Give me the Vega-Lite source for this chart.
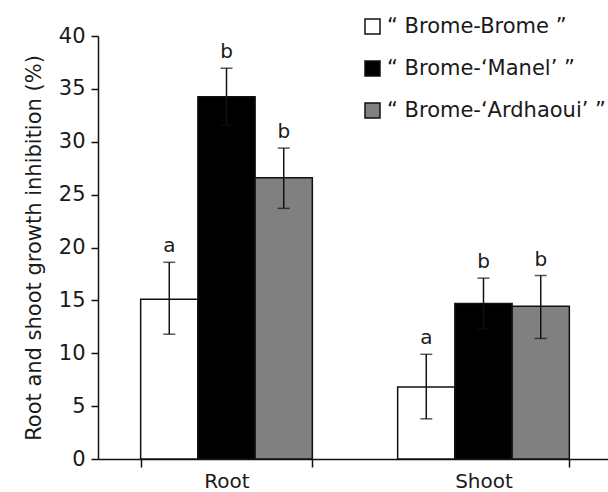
{
  "$schema": "https://vega.github.io/schema/vega-lite/v6.json",
  "width": 510,
  "height": 423,
  "autosize": {"type": "none"},
  "padding": {"left": 98, "top": 36, "right": 0, "bottom": 33},
  "background": "white",
  "config": {
    "view": {"stroke": null},
    "font": "DejaVu Sans",
    "axis": {"grid": false, "domainColor": "#111", "tickColor": "#111", "labelColor": "#1a1a1a", "titleColor": "#1a1a1a", "domainWidth": 1.5, "tickWidth": 1.5}
  },
  "data": {
    "values": [
      {"group": "Root", "treatment": "“ Brome-Brome ”", "value": 15.1, "lo": 11.8, "hi": 18.6, "letter": "a"},
      {"group": "Root", "treatment": "“ Brome-‘Manel’ ”", "value": 34.25, "lo": 31.55, "hi": 36.95, "letter": "b"},
      {"group": "Root", "treatment": "“ Brome-‘Ardhaoui’ ”", "value": 26.6, "lo": 23.7, "hi": 29.4, "letter": "b"},
      {"group": "Shoot", "treatment": "“ Brome-Brome ”", "value": 6.8, "lo": 3.8, "hi": 9.9, "letter": "a"},
      {"group": "Shoot", "treatment": "“ Brome-‘Manel’ ”", "value": 14.7, "lo": 12.3, "hi": 17.1, "letter": "b"},
      {"group": "Shoot", "treatment": "“ Brome-‘Ardhaoui’ ”", "value": 14.45, "lo": 11.4, "hi": 17.35, "letter": "b"}
    ]
  },
  "encoding": {
    "x": {
      "field": "group", "type": "nominal", "sort": ["Root", "Shoot"],
      "scale": {"range": [0, 514], "paddingInner": 0.332, "paddingOuter": 0.166},
      "axis": {"title": null, "labelAngle": 0, "labelFontSize": 20, "tickSize": 8, "labelPadding": 4, "tickBand": "extent"}
    },
    "xOffset": {"field": "treatment", "type": "nominal", "sort": ["“ Brome-Brome ”", "“ Brome-‘Manel’ ”", "“ Brome-‘Ardhaoui’ ”"]}
  },
  "layer": [
    {
      "mark": {"type": "bar", "stroke": "#111", "strokeWidth": 1.5},
      "encoding": {
        "y": {
          "field": "value", "type": "quantitative",
          "scale": {"domain": [0, 40], "nice": false},
          "axis": {"title": "Root and shoot growth inhibition (%)", "titleFontSize": 21, "titleFontWeight": "normal", "titlePadding": 14, "labelFontSize": 21, "tickSize": 7, "labelPadding": 6, "values": [0, 5, 10, 15, 20, 25, 30, 35, 40]}
        },
        "fill": {
          "field": "treatment", "type": "nominal",
          "sort": ["“ Brome-Brome ”", "“ Brome-‘Manel’ ”", "“ Brome-‘Ardhaoui’ ”"],
          "scale": {"domain": ["“ Brome-Brome ”", "“ Brome-‘Manel’ ”", "“ Brome-‘Ardhaoui’ ”"], "range": ["#ffffff", "#000000", "#808080"]},
          "legend": {"title": null, "orient": "none", "legendX": 264, "legendY": -20, "padding": 0, "symbolType": "square", "symbolSize": 225, "symbolStrokeColor": "#111", "symbolStrokeWidth": 1.5, "labelFontSize": 21, "labelColor": "#1a1a1a", "labelOffset": 4, "rowPadding": 20, "labelLimit": 400}
        }
      }
    },
    {
      "mark": {"type": "rule", "color": "#111", "strokeWidth": 1.5},
      "encoding": {
        "y": {"field": "lo", "type": "quantitative"},
        "y2": {"field": "hi"}
      }
    },
    {
      "mark": {"type": "tick", "color": "#111", "thickness": 1.5, "size": 12},
      "encoding": {"y": {"field": "lo", "type": "quantitative"}}
    },
    {
      "mark": {"type": "tick", "color": "#111", "thickness": 1.5, "size": 12},
      "encoding": {"y": {"field": "hi", "type": "quantitative"}}
    },
    {
      "mark": {"type": "text", "fontSize": 20, "color": "#1a1a1a", "baseline": "alphabetic", "dy": -10},
      "encoding": {
        "y": {"field": "hi", "type": "quantitative"},
        "text": {"field": "letter"}
      }
    }
  ]
}
